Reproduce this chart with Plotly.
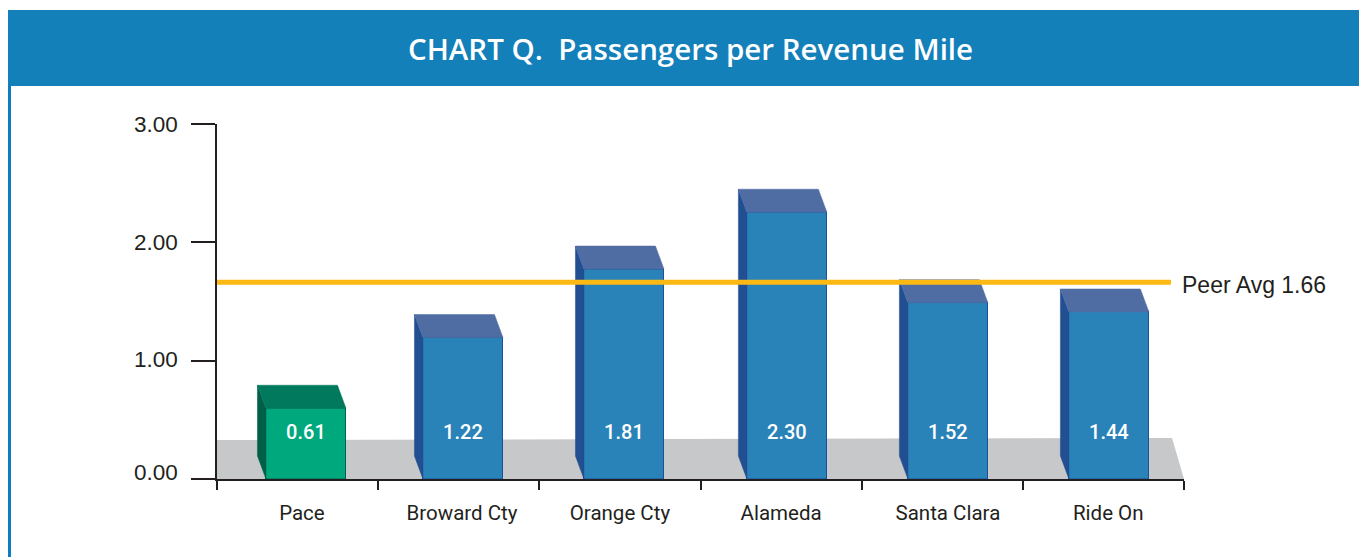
import plotly.graph_objects as go

categories = ["Pace", "Broward Cty", "Orange Cty", "Alameda", "Santa Clara", "Ride On"]
values = [0.61, 1.22, 1.81, 2.30, 1.52, 1.44]
value_labels = ["0.61", "1.22", "1.81", "2.30", "1.52", "1.44"]
y_ticks = [0, 1, 2, 3]
y_tick_labels = ["0.00", "1.00", "2.00", "3.00"]
peer_avg = 1.66
peer_label = "Peer Avg 1.66"
title = "CHART Q.\u00a0\u00a0Passengers per Revenue Mile"

W, H = 1359, 557
L, R, T, B = 217, 1184, 123.5, 479
UNIT_X = (R - L) / 6
PX = lambda x: x / W
PY = lambda y: 1 - y / H

# styling / layout constants
bar_nudge = [0.552, 0.526, 0.525, 0.536, 0.535, 0.534]
label_nudge = [0.527, 0.52, 0.5, 0.5, 0.535, 0.53]
y_label_shift = [6.5, 1, 0, -1.5]
bar_w = 80 / UNIT_X
bar_scale_max = (B - T) / 116
dx = 8.5 / UNIT_X
dy = 23 / 116
front = ["#00A87E"] + ["#2A83B8"] * 5
top_c = ["#00795C"] + ["#4F6CA3"] * 5
side_c = ["#005F47"] + ["#214F91"] * 5
edge = ["#00614A"] + ["#1D4F9B"] * 5
dark = "#231F20"

centers = [i + n for i, n in enumerate(bar_nudge)]

fig = go.Figure()
fig.add_bar(x=centers, y=values, width=bar_w, marker=dict(color=front, line=dict(color=edge, width=1)),
            hoverinfo="skip", showlegend=False)
for c, v, tc, sc in zip(centers, values, top_c, side_c):
    x0, x1 = c - bar_w / 2, c + bar_w / 2
    fig.add_scatter(x=[x0, x0 - dx, x0 - dx, x0, x0], y=[0, dy, v + dy, v, 0], fill="toself", fillcolor=sc,
                    mode="lines", line=dict(color=sc, width=0.5), hoverinfo="skip", showlegend=False)
    fig.add_scatter(x=[x0, x0 - dx, x1 - dx, x1, x0], y=[v, v + dy, v + dy, v, v], fill="toself", fillcolor=tc,
                    mode="lines", line=dict(color=tc, width=0.5), hoverinfo="skip", showlegend=False)
fig.add_scatter(x=centers, y=[45 / 116] * 6, mode="text", text=value_labels,
                textfont=dict(family="Roboto", size=20, color="white", weight=500),
                textposition="middle center", hoverinfo="skip", showlegend=False)
fig.add_scatter(x=[0, (1171 - L) / UNIT_X], y=[peer_avg, peer_avg], yaxis="y2", mode="lines",
                line=dict(color="#FDB913", width=5), hoverinfo="skip", showlegend=False)

shapes = [
    dict(type="rect", xref="paper", yref="paper", x0=PX(8), x1=1, y0=PY(86), y1=PY(10),
         fillcolor="#1380BA", line=dict(width=0), layer="below"),
    dict(type="rect", xref="paper", yref="paper", x0=PX(8), x1=PX(11), y0=0, y1=PY(86),
         fillcolor="#0F7CBF", line=dict(width=0), layer="below"),
    dict(type="path", xref="paper", yref="paper", layer="below", fillcolor="#C7C8CA", line=dict(width=0),
         path=f"M {PX(217)} {PY(479)} L {PX(217)} {PY(440)} L {PX(1172)} {PY(438)} L {PX(1184)} {PY(479)} Z"),
]
annotations = [
    dict(xref="paper", yref="paper", x=PX(690), y=PY(48), text=title, showarrow=False,
         font=dict(family="Open Sans", size=29.5, color="white", weight=600), xanchor="center", yanchor="middle"),
    dict(xref="paper", yref="paper", x=PX(1182), y=PY(285), text=peer_label, showarrow=False,
         font=dict(family="Liberation Sans", size=23, color=dark), xanchor="left", yanchor="middle", xshift=-2),
]
for tick, label, shift in zip(y_ticks, y_tick_labels, y_label_shift):
    annotations.append(dict(xref="paper", yref="y2", x=PX(180), y=tick, yshift=shift, text=label, showarrow=False,
                            font=dict(family="Liberation Sans", size=22.5, color=dark),
                            xanchor="right", yanchor="middle"))

fig.update_layout(
    width=W, height=H, autosize=False, margin=dict(l=0, r=0, t=0, b=0, pad=0, autoexpand=False),
    paper_bgcolor="white", plot_bgcolor="rgba(0,0,0,0)", shapes=shapes, annotations=annotations, bargap=0,
    xaxis=dict(domain=[PX(L), PX(R)], range=[0, 6], tickmode="array",
               tickvals=[i + n for i, n in enumerate(label_nudge)], ticktext=categories, ticks="", showgrid=False,
               zeroline=False, showline=True, linecolor=dark, linewidth=2, ticklabelstandoff=14,
               tickfont=dict(family="Roboto", size=20.5, color=dark),
               minor=dict(tickmode="array", tickvals=list(range(7)), ticks="outside", ticklen=9, tickwidth=2,
                          tickcolor=dark, showgrid=False)),
    yaxis=dict(domain=[PY(B), PY(T)], range=[0, bar_scale_max], visible=False, showgrid=False, zeroline=False),
    yaxis2=dict(domain=[PY(B), PY(T)], overlaying="y", anchor="x", side="left", range=[0, 3], tickmode="array",
                tickvals=y_ticks, showticklabels=False, ticks="outside", ticklen=24, tickwidth=2, tickcolor=dark,
                showgrid=False, zeroline=False, showline=True, linecolor=dark, linewidth=2),
)
fig.write_html("out.html", config=dict(displayModeBar=False),
               post_script="document.body.style.margin='0';document.body.style.overflow='hidden';")
